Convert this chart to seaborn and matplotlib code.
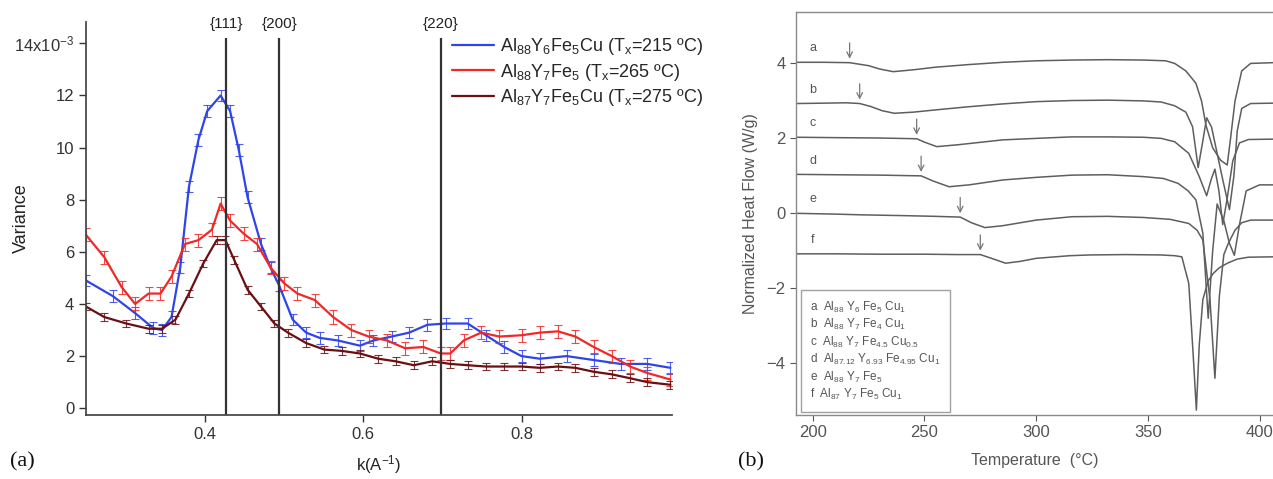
import numpy as np
import matplotlib
matplotlib.use('Agg')
import matplotlib.pyplot as plt
from matplotlib.lines import Line2D
import seaborn as sns

# ---- panel (a): variance vs k, values in units of 1e-3
k_blue = [0.250, 0.284, 0.312, 0.335, 0.346, 0.358, 0.369, 0.380, 0.392, 0.403,
          0.420, 0.432, 0.443, 0.454, 0.471, 0.483, 0.494, 0.511, 0.528, 0.545,
          0.568, 0.596, 0.613, 0.636, 0.658, 0.681, 0.704, 0.732, 0.755, 0.778,
          0.800, 0.823, 0.857, 0.891, 0.925, 0.959, 0.988]
var_blue = [4.9, 4.3, 3.65, 3.07, 3.0, 3.5, 5.4, 8.5, 10.3, 11.4,
            12.0, 11.4, 9.9, 8.1, 6.3, 5.4, 4.7, 3.4, 2.9, 2.7,
            2.6, 2.4, 2.6, 2.75, 2.9, 3.2, 3.25, 3.25, 2.8, 2.35,
            2.0, 1.9, 2.0, 1.85, 1.7, 1.7, 1.55]

k_red = [0.250, 0.273, 0.295, 0.312, 0.329, 0.344, 0.358, 0.375, 0.392, 0.409,
         0.420, 0.432, 0.449, 0.466, 0.483, 0.500, 0.517, 0.539, 0.562, 0.585,
         0.607, 0.630, 0.653, 0.676, 0.698, 0.710, 0.727, 0.749, 0.772, 0.800,
         0.823, 0.846, 0.868, 0.891, 0.914, 0.937, 0.959, 0.988]
var_red = [6.65, 5.8, 4.65, 4.0, 4.4, 4.4, 5.05, 6.3, 6.45, 6.85,
           7.85, 7.2, 6.7, 6.3, 5.4, 4.8, 4.4, 4.15, 3.5, 3.0,
           2.75, 2.6, 2.3, 2.35, 2.1, 2.1, 2.6, 2.9, 2.75, 2.8,
           2.9, 2.95, 2.75, 2.35, 2.0, 1.6, 1.35, 1.1]

k_dark = [0.250, 0.273, 0.301, 0.329, 0.346, 0.363, 0.380, 0.398, 0.415, 0.426,
          0.437, 0.454, 0.471, 0.488, 0.505, 0.528, 0.551, 0.573, 0.596, 0.619,
          0.641, 0.664, 0.687, 0.710, 0.732, 0.755, 0.778, 0.800, 0.823, 0.846,
          0.868, 0.891, 0.914, 0.937, 0.959, 0.988]
var_dark = [3.9, 3.5, 3.25, 3.05, 3.05, 3.4, 4.4, 5.55, 6.45, 6.45,
            5.7, 4.55, 3.9, 3.25, 2.9, 2.5, 2.25, 2.2, 2.1, 1.9,
            1.8, 1.65, 1.8, 1.7, 1.65, 1.6, 1.6, 1.6, 1.55, 1.6,
            1.55, 1.4, 1.3, 1.15, 1.0, 0.9]

err_a = [0.22, 0.25, 0.15]
labels_a = [r'Al$_{88}$Y$_6$Fe$_5$Cu (T$_x$=215 ºC)',
            r'Al$_{88}$Y$_7$Fe$_5$ (T$_x$=265 ºC)',
            r'Al$_{87}$Y$_7$Fe$_5$Cu (T$_x$=275 ºC)']
colors_a = ['#2f45e8', '#f02828', '#6a0f12']

peaks_k = [0.427, 0.494, 0.698]
peaks_lab = ['{111}', '{200}', '{220}']

# ---- panel (b): DSC traces
T_a = [193, 205, 216.5, 225, 230, 236, 245, 255, 270, 285, 300, 316, 332, 348,
       358, 362, 367, 371.5, 374, 376, 379, 382.5, 385.5, 387, 389, 392, 396, 406]
hf_a = [4.03, 4.03, 4.02, 3.94, 3.85, 3.78, 3.83, 3.9, 3.97, 4.03, 4.07, 4.09, 4.1, 4.09,
        4.07, 4.0, 3.8, 3.47, 3.0, 2.35, 1.75, 1.42, 1.29, 2.0, 3.0, 3.8, 4.0, 4.02]
T_b = [193, 205, 215, 221, 226, 231, 236.5, 245, 255, 269, 285, 300, 316, 332, 348,
       356, 362, 367, 370, 372.5, 374.5, 376.3, 378.5, 381, 383.5, 386.5, 388.5, 390,
       392, 396, 406]
hf_b = [2.93, 2.94, 2.95, 2.93, 2.85, 2.74, 2.67, 2.7, 2.76, 2.84, 2.92, 2.98, 3.01, 3.02, 3.0,
        2.97, 2.87, 2.7, 2.31, 1.22, 1.9, 2.55, 2.3, 1.6, 0.9, 0.1, 1.0, 2.2,
        2.8, 2.93, 2.94]
T_c = [193, 210, 230, 246.5, 250, 255.5, 265, 285, 300, 316, 332, 348, 356, 362,
       368.3, 373, 376.3, 378.3, 380, 381.8, 383.5, 385.5, 388, 391, 395, 406]
hf_c = [2.03, 2.02, 2.01, 1.99, 1.9, 1.78, 1.83, 1.96, 2.0, 2.04, 2.04, 2.03, 2.0, 1.91,
        1.6, 0.98, 0.47, 0.9, 1.18, 0.6, -0.3, 0.4, 1.4, 1.88, 1.97, 1.98]
T_d = [193, 210, 230, 248.5, 254, 261, 270, 285, 300, 316, 332, 348, 357, 363.5,
       368, 371.5, 374.6, 377, 379, 381, 384, 386.5, 388.7, 391, 394, 400, 406]
hf_d = [1.04, 1.03, 1.02, 1.0, 0.86, 0.71, 0.76, 0.89, 0.96, 1.02, 1.03, 0.98, 0.93, 0.8,
        0.6, 0.36, -0.53, -2.8, -1.0, 0.25, -0.2, -0.8, -1.12, -0.3, 0.6, 0.76, 0.76]
T_e = [193, 210, 222, 240, 255, 266, 271, 277, 285, 300, 316, 332, 348, 360, 368.3,
       372, 374.6, 377.8, 380, 382, 384, 386, 389, 392, 396, 406]
hf_e = [0.0, -0.02, -0.04, -0.06, -0.08, -0.1, -0.25, -0.38, -0.33, -0.18, -0.09, -0.08,
        -0.11, -0.16, -0.27, -0.45, -0.71, -2.3, -4.4, -2.2, -1.1, -0.8, -0.45, -0.25,
        -0.18, -0.18]
T_f = [193, 210, 230, 250, 265, 275, 280, 286.3, 293, 300, 315, 324, 340, 355.7, 362,
       365.2, 368.3, 370.3, 371.7, 373, 374.6, 377, 379.3, 382, 385.6, 390, 395, 406]
hf_f = [-1.08, -1.08, -1.09, -1.09, -1.1, -1.1, -1.2, -1.33, -1.28, -1.2, -1.13, -1.11,
        -1.1, -1.11, -1.13, -1.16, -1.87, -3.8, -5.25, -3.5, -2.3, -1.8, -1.6, -1.45,
        -1.33, -1.22, -1.17, -1.16]

curve_letters = ['a', 'b', 'c', 'd', 'e', 'f']
arrow_T = [216.5, 221, 246.5, 248.5, 266, 275]
legend_b = [r'Al$_{88}$ Y$_6$ Fe$_5$ Cu$_1$',
            r'Al$_{88}$ Y$_7$ Fe$_4$ Cu$_1$',
            r'Al$_{88}$ Y$_7$ Fe$_{4.5}$ Cu$_{0.5}$',
            r'Al$_{87.12}$ Y$_{6.93}$ Fe$_{4.95}$ Cu$_1$',
            r'Al$_{88}$ Y$_7$ Fe$_5$',
            r'Al$_{87}$ Y$_7$ Fe$_5$ Cu$_1$']

sns.set_theme(style='ticks')
plt.rcParams['font.family'] = ['Liberation Sans', 'DejaVu Sans']
plt.rcParams['mathtext.default'] = 'regular'

W, H = 1273, 479
fig = plt.figure(figsize=(W / 100, H / 100), dpi=100)
axA = fig.add_axes([86 / W, 64 / H, 586 / W, 393 / H])
axB = fig.add_axes([796 / W, 64 / H, 477 / W, 403.3 / H])

# ---------------- panel (a)
series = [(k_blue, var_blue), (k_red, var_red), (k_dark, var_dark)]
for (kk, vv), col, lab, err in zip(series, colors_a, labels_a, err_a):
    axA.errorbar(kk, vv, yerr=err, fmt='none', ecolor=col, elinewidth=0.8,
                 capsize=3, capthick=0.8, alpha=0.85)
    sns.lineplot(x=kk, y=vv, ax=axA, color=col, lw=1.6, sort=False,
                 estimator=None, label=lab)

for pk, pl in zip(peaks_k, peaks_lab):
    axA.vlines(pk, -0.26, 14.2, color='#333333', lw=1.6)
    axA.text(pk, 14.75, pl, ha='center', va='center', fontsize=11, color='#222222',
             clip_on=False)

axA.set_xlim(0.25, 0.99)
axA.set_ylim(-0.26, 14.82)
axA.set_xticks([0.4, 0.6, 0.8])
axA.set_xticklabels(['0.4', '0.6', '0.8'])
axA.set_yticks([0, 2, 4, 6, 8, 10, 12, 14])
axA.set_yticklabels(['0', '2', '4', '6', '8', '10', '12', r'14x10$^{-3}$'])
axA.tick_params(axis='both', labelsize=12, colors='#333333', length=5, width=1,
                direction='out')
axA.set_xlabel(r'k(A$^{-1}$)', fontsize=12, color='#222222', labelpad=8)
axA.set_ylabel('Variance', fontsize=13, color='#222222')
axA.yaxis.set_label_coords(-0.095, 0.5)
for s in ['top', 'right']:
    axA.spines[s].set_visible(False)
for s in ['left', 'bottom']:
    axA.spines[s].set_color('#444444')
handles = [Line2D([0], [0], color=c, lw=1.6) for c in colors_a]
axA.legend(handles, labels_a, loc='upper left', bbox_to_anchor=(452 / W, 1 - 36 / H),
           bbox_transform=fig.transFigure, frameon=False, fontsize=13,
           handlelength=2.3, handletextpad=0.35, labelspacing=0.25, borderpad=0,
           borderaxespad=0)

# ---------------- panel (b)
dsc = [(T_a, hf_a), (T_b, hf_b), (T_c, hf_c), (T_d, hf_d), (T_e, hf_e), (T_f, hf_f)]
gray = '#5e5e5e'
for (tt, hh), letter, ta in zip(dsc, curve_letters, arrow_T):
    sns.lineplot(x=tt, y=hh, ax=axB, color=gray, lw=1.1, sort=False,
                 estimator=None, legend=False)
    axB.text(200, hh[0] + 0.37, letter, ha='center', va='center', fontsize=9,
             color='#555555')
    tip = np.interp(ta, tt, hh)
    axB.annotate('', xy=(ta, tip + 0.03), xytext=(ta, tip + 0.6),
                 arrowprops=dict(arrowstyle='->', color='#777777', lw=0.9,
                                 mutation_scale=10))

axB.set_xlim(192.5, 406)
axB.set_ylim(-5.38, 5.38)
axB.set_xticks([200, 250, 300, 350, 400])
axB.set_yticks([-4, -2, 0, 2, 4])
axB.tick_params(axis='both', labelsize=12, colors='#555555', length=4, width=0.8,
                direction='out')
axB.set_xlabel('Temperature  (°C)', fontsize=11.5, color='#555555', labelpad=9)
axB.set_ylabel('Normalized Heat Flow (W/g)', fontsize=11.5, color='#555555', labelpad=6)
axB.spines['right'].set_visible(False)
for s in ['top', 'left', 'bottom']:
    axB.spines[s].set_color('#8a8a8a')
    axB.spines[s].set_linewidth(1.0)

hb = [Line2D([0], [0], color='none') for _ in legend_b]
lb = [f'{l}  {t}' for l, t in zip(curve_letters, legend_b)]
legB = axB.legend(hb, lb, loc='lower left', bbox_to_anchor=(0.01, 0.008),
                  borderaxespad=0, fontsize=8.5, handlelength=0, handletextpad=0,
                  labelspacing=0.2, fancybox=False, frameon=True, borderpad=0.8)
legB.get_frame().set_edgecolor('#8a8a8a')
legB.get_frame().set_linewidth(1.0)
for t in legB.get_texts():
    t.set_color('#555555')

fig.text(10 / W, 1 - 462 / H, '(a)', fontsize=16, family='Liberation Serif',
         va='center', ha='left', color='#111111')
fig.text(738 / W, 1 - 462 / H, '(b)', fontsize=16, family='Liberation Serif',
         va='center', ha='left', color='#111111')

fig.savefig('out.png', dpi=100)
